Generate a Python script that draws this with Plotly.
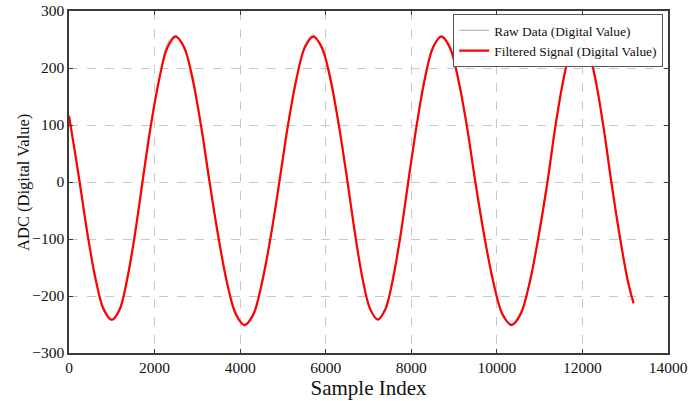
import plotly.graph_objects as go

# Filtered signal samples
filt_x = [0, 124, 248, 436, 624, 812, 1000, 1180, 1359, 1539, 1718,
          1912, 2107, 2301, 2495, 2693, 2890, 3088, 3286,
          3490, 3695, 3899, 4103, 4307, 4510, 4714, 4917,
          5115, 5313, 5512, 5710, 5910, 6110, 6311, 6511,
          6687, 6863, 7039, 7215, 7394, 7572, 7751, 7929,
          8122, 8315, 8507, 8700, 8900, 9099, 9299, 9498,
          9710, 9921, 10133, 10345, 10555, 10764, 10974, 11183,
          11370, 11556, 11743, 11930, 12117, 12303, 12490, 12677,
          12865, 13052, 13195]
filt_y = [116, 59, 0, -93, -171, -224, -242, -224, -171, -93, 0,
          98, 180, 236, 255, 236, 180, 98, 0,
          -96, -177, -232, -251, -232, -177, -96, 0,
          98, 180, 236, 255, 236, 180, 98, 0,
          -92, -170, -223, -241, -223, -170, -92, 0,
          98, 180, 236, 255, 236, 180, 98, 0,
          -96, -177, -232, -251, -232, -177, -96, 0,
          98, 180, 236, 255, 236, 180, 98, 0,
          -92, -170, -213]

# Raw (noisy) data samples
raw_x = filt_x
raw_y = [118, 62, 3, -89, -174, -220, -240, -227, -166, -90, 6,
         104, 178, 242, 257, 233, 186, 95, -4,
         -92, -180, -228, -252, -236, -172, -99, 5,
         101, 176, 240, 258, 232, 187, 94, -5,
         -88, -174, -220, -243, -226, -165, -96, 6,
         95, 186, 233, 257, 240, 176, 102, -4,
         -100, -173, -236, -249, -228, -181, -92, 4,
         103, 176, 239, 257, 232, 185, 95, -6,
         -88, -174, -210]

x_ticks = [0, 2000, 4000, 6000, 8000, 10000, 12000, 14000]
x_labels = ["0", "2000", "4000", "6000", "8000", "10000", "12000", "14000"]
y_ticks = [-300, -200, -100, 0, 100, 200, 300]
y_labels = ["\u2212300", "\u2212200", "\u2212100", "0", "100", "200", "300"]

FONT = "Liberation Serif, Times New Roman, serif"
TXT = "#111111"

fig = go.Figure()
fig.add_trace(go.Scatter(x=raw_x, y=raw_y, mode="lines", name="Raw Data (Digital Value)",
                         line=dict(color="#b9b9b9", width=1.3, shape="spline")))
fig.add_trace(go.Scatter(x=filt_x, y=filt_y, mode="lines", name="Filtered Signal (Digital Value)",
                         line=dict(color="#ff0000", width=2.2, shape="spline")))

axis_common = dict(showline=True, linecolor="#3a3a3a", linewidth=1.5, mirror="ticks",
                   ticks="inside", ticklen=4, tickcolor="#3a3a3a", automargin=False,
                   showgrid=True, gridcolor="#c8c8c8", gridwidth=0.8, griddash="dash",
                   zeroline=False, tickfont=dict(family=FONT, size=15.5, color=TXT))

fig.update_xaxes(range=[0, 14000], tickvals=x_ticks, ticktext=x_labels,
                 title=dict(text="Sample Index", font=dict(family=FONT, size=21, color=TXT), standoff=3),
                 **axis_common)
fig.update_yaxes(range=[-300, 300], tickvals=y_ticks, ticktext=y_labels, **axis_common)

fig.add_annotation(text="ADC (Digital Value)", xref="paper", yref="paper",
                   x=-0.077, y=0.5, xanchor="center", yanchor="middle", textangle=-90,
                   showarrow=False, font=dict(family=FONT, size=16.5, color=TXT))

fig.update_layout(
    width=700, height=401,
    margin=dict(l=69, r=32, t=11, b=48, autoexpand=False),
    paper_bgcolor="white", plot_bgcolor="white",
    font=dict(family=FONT, size=14, color=TXT),
    legend=dict(x=0.992, y=0.991, xanchor="right", yanchor="top",
                bgcolor="rgba(255,255,255,0.95)", bordercolor="#555555", borderwidth=1,
                font=dict(family=FONT, size=13.4, color=TXT), tracegroupgap=0, itemwidth=30),
    showlegend=True,
)

fig.write_html("out.html")
